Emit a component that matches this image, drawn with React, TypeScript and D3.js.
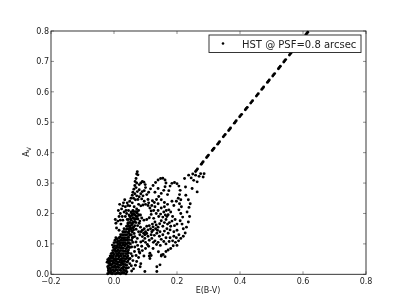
import React from "react";
import * as d3 from "d3";

type P = [number, number];

const xTicks = [-0.2, 0, 0.2, 0.4, 0.6, 0.8];
const yTicks = [0, 0.1, 0.2, 0.3, 0.4, 0.5, 0.6, 0.7, 0.8];
const legendLabel = "HST @ PSF=0.8 arcsec";

const coreLow: P[] = [
  [-0.02,0.002],[-0.018,0.012],[-0.02,0.025],[-0.022,0.04],[-0.02,0.048],[-0.016,0.036],[-0.014,0.02],[-0.012,0.006],[-0.015,0.048],[-0.012,0.06],
  [-0.01,0.03],[-0.008,0.012],[-0.006,0.002],[-0.008,0.044],[-0.006,0.056],[-0.005,0.07],[-0.004,0.025],[-0.002,0.038],[0,0.01],[0,0.05],
  [0,0.065],[0,0.08],[0.002,0.094],[0.002,0.028],[0.004,0.002],[0.004,0.044],[0.005,0.058],[0.005,0.075],[0.006,0.105],[0.006,0.016],
  [0.008,0.034],[0.008,0.088],[0.01,0.05],[0.01,0.066],[0.01,0.116],[0.012,0.006],[0.012,0.024],[0.012,0.08],[0.014,0.098],[0.014,0.04],
  [0.016,0.056],[0.016,0.072],[0.016,0.11],[0.018,0.014],[0.018,0.03],[0.018,0.088],[0.02,0.002],[0.02,0.046],[0.02,0.062],[0.02,0.102],
  [0.02,0.122],[0.022,0.078],[0.024,0.02],[0.024,0.036],[0.024,0.094],[0.024,0.112],[0.026,0.052],[0.026,0.068],[0.026,0.13],[0.028,0.006],
  [0.028,0.086],[0.03,0.026],[0.03,0.042],[0.03,0.104],[0.03,0.12],[0.032,0.06],[0.032,0.076],[0.032,0.14],[0.034,0.012],[0.034,0.094],
  [0.035,0.032],[0.036,0.05],[0.036,0.112],[0.036,0.13],[0.038,0.002],[0.038,0.068],[0.038,0.084],[0.04,0.02],[0.04,0.1],[0.04,0.148],
  [0.042,0.04],[0.042,0.12],[0.044,0.06],[0.044,0.138],[0.046,0.08],[0.046,0.158],[0.048,0.104],[0.05,0.128],[0.05,0.148],[0.052,0.17]
];

const coreFill: P[] = [
  [-0.016,0.006],[-0.01,0.004],[-0.002,0.004],[0.008,0.003],[0.015,0.004],[0.024,0.004],[0.032,0.004],[-0.018,0.018],[-0.011,0.014],[-0.003,0.014],
  [0.004,0.012],[0.011,0.014],[0.022,0.012],[0.03,0.014],[0.038,0.012],[-0.017,0.028],[-0.007,0.022],[0,0.022],[0.007,0.024],[0.015,0.022],
  [0.028,0.02],[0.036,0.022],[-0.012,0.034],[-0.005,0.034],[0.003,0.036],[0.012,0.032],[0.021,0.03],[0.028,0.034],[0.04,0.03],[-0.018,0.042],
  [-0.012,0.042],[-0.004,0.044],[0.008,0.042],[0.018,0.04],[0.026,0.042],[0.034,0.042],[-0.016,0.052],[-0.01,0.052],[-0.002,0.052],[0.006,0.05],
  [0.014,0.05],[0.023,0.05],[0.031,0.052],[0.04,0.052],[-0.009,0.06],[-0.003,0.06],[0.008,0.06],[0.013,0.062],[0.024,0.06],[0.036,0.06],
  [0.042,0.056],[-0.009,0.068],[-0.002,0.07],[0.008,0.068],[0.014,0.068],[0.022,0.068],[0.03,0.068],[0.042,0.068],[-0.004,0.078],[0.003,0.08],
  [0.009,0.076],[0.019,0.078],[0.027,0.078],[0.036,0.076],[0.043,0.076],[-0.002,0.088],[0.005,0.086],[0.013,0.088],[0.022,0.086],[0.03,0.086],
  [0.042,0.088],[-0.005,0.096],[0.009,0.094],[0.018,0.096],[0.028,0.096],[0.036,0.096],[0.045,0.094],[0,0.104],[0.011,0.104],[0.018,0.104],
  [0.026,0.104],[0.035,0.104],[0.044,0.104],[0.003,0.112],[0.012,0.11],[0.021,0.112],[0.03,0.112],[0.042,0.112],[0.048,0.114],[0.006,0.12],
  [0.016,0.12],[0.025,0.12],[0.035,0.12],[0.046,0.122],[0.021,0.13],[0.031,0.13],[0.041,0.13],[0.048,0.134],[0.055,0.13],[0.028,0.14],
  [0.037,0.14],[0.048,0.142],[0.056,0.142],[0.062,0.146],[0.032,0.15],[0.044,0.15],[0.052,0.154],[0.06,0.152],[0.04,0.158],[0.056,0.162],
  [0.044,0.166],[0.05,0.17],[0.06,0.17],[0.066,0.172],[0.046,0.18],[0.053,0.182],[0.063,0.184],[0.07,0.182],[0.05,0.19],[0.058,0.194],
  [0.066,0.196],[0.074,0.19],[0.054,0.205],[0.062,0.206],[0.072,0.206],[0.052,0.1],[0.056,0.112],[0.06,0.122],[0.064,0.134],[0.07,0.148],
  [0.075,0.16],[0.08,0.168],[0.044,0.044],[0.041,0.008],[0.046,0.07],[0.05,0.088]
];

const band: P[] = [
  [0.05,0.16],[0.052,0.19],[0.054,0.15],[0.055,0.178],[0.056,0.2],[0.058,0.165],[0.058,0.14],[0.06,0.186],[0.06,0.21],[0.062,0.172],
  [0.062,0.155],[0.064,0.198],[0.064,0.222],[0.066,0.18],[0.066,0.16],[0.068,0.206],[0.07,0.19],[0.07,0.17],[0.072,0.215],[0.074,0.2],
  [0.076,0.182],[0.078,0.21],[0.08,0.195],[0.082,0.175],[0.045,0.17],[0.042,0.18],[0.048,0.195],[0.046,0.21],[0.05,0.225],[0.04,0.2],
  [0.036,0.19],[0.032,0.205],[0.036,0.222],[0.03,0.235],[0.024,0.215],[0.02,0.2],[0.016,0.19],[0.012,0.175],[0.018,0.23],[0.028,0.178],
  [0.014,0.21],[0.022,0.165],[0.006,0.168],[0.042,0.235],[0.034,0.245],[0.05,0.24],[0.008,0.152],[0.016,0.145],[0.004,0.18],[0.026,0.19],
  [0.028,0.225],[0.038,0.21],[0.044,0.226],[0.02,0.178]
];

const spike: P[] = [
  [0.074,0.337],[0.072,0.33],[0.076,0.327],[0.07,0.315],[0.067,0.305],[0.072,0.3],[0.066,0.292],[0.07,0.285],[0.063,0.28],[0.06,0.27],
  [0.066,0.265],[0.058,0.26],[0.054,0.25],[0.062,0.25],[0.068,0.245],[0.058,0.235],[0.08,0.295],[0.085,0.3],[0.09,0.305],[0.095,0.303],
  [0.099,0.295],[0.1,0.285],[0.096,0.275],[0.09,0.272],[0.085,0.265],[0.08,0.255],[0.076,0.246],[0.078,0.23],[0.074,0.272],[0.08,0.278],
  [0.072,0.258]
];

const innerLoops: P[] = [
  [0.085,0.225],[0.092,0.228],[0.1,0.23],[0.108,0.226],[0.114,0.218],[0.118,0.208],[0.118,0.197],[0.112,0.186],[0.104,0.18],[0.095,0.178],
  [0.088,0.185],[0.084,0.195],[0.126,0.184],[0.13,0.172],[0.122,0.165],[0.112,0.16],[0.104,0.158],[0.096,0.15],[0.09,0.145],[0.084,0.155],
  [0.1,0.14],[0.108,0.146],[0.116,0.15],[0.124,0.145],[0.132,0.15],[0.14,0.155],[0.136,0.135],[0.144,0.125],[0.15,0.115],[0.158,0.108],
  [0.165,0.1],[0.128,0.128],[0.118,0.13],[0.108,0.125],[0.098,0.118],[0.09,0.124],[0.082,0.13],[0.074,0.118],[0.07,0.106],[0.075,0.095],
  [0.085,0.106],[0.1,0.105],[0.112,0.112],[0.134,0.2],[0.14,0.21],[0.148,0.198],[0.155,0.188],[0.15,0.176],[0.145,0.166],[0.16,0.17],
  [0.165,0.18],[0.158,0.205],[0.15,0.218],[0.16,0.222],[0.166,0.21],[0.172,0.196],[0.17,0.23],[0.163,0.195],[0.176,0.17],[0.18,0.158],
  [0.168,0.15],[0.16,0.142],[0.172,0.135],[0.178,0.12],[0.186,0.11],[0.195,0.105],[0.2,0.095],[0.188,0.094],[0.18,0.085],[0.172,0.08],
  [0.165,0.075],[0.156,0.065],[0.15,0.06],[0.19,0.14],[0.2,0.145],[0.206,0.13],[0.2,0.165],[0.194,0.18],[0.186,0.19],[0.18,0.205],
  [0.094,0.135],[0.104,0.134],[0.086,0.14],[0.12,0.14],[0.155,0.158],[0.17,0.165],[0.155,0.13],[0.165,0.12],[0.19,0.125],[0.175,0.108],
  [0.066,0.124],[0.078,0.14],[0.092,0.11],[0.106,0.098],[0.12,0.118],[0.13,0.11],[0.14,0.105],[0.078,0.082],[0.088,0.092],[0.098,0.13],
  [0.138,0.145],[0.146,0.14],[0.124,0.156],[0.134,0.162],[0.178,0.146],[0.184,0.175],[0.192,0.16],[0.168,0.19],[0.174,0.212],[0.142,0.19],
  [0.126,0.21],[0.13,0.222],[0.14,0.232],[0.122,0.242],[0.108,0.246],[0.096,0.24],[0.088,0.248],[0.092,0.258],[0.11,0.235],[0.198,0.12]
];

const outerLoops: P[] = [
  [0.104,0.262],[0.11,0.27],[0.116,0.281],[0.124,0.292],[0.132,0.302],[0.14,0.31],[0.148,0.315],[0.155,0.316],[0.162,0.31],[0.165,0.3],
  [0.162,0.288],[0.158,0.276],[0.15,0.266],[0.142,0.256],[0.135,0.246],[0.128,0.236],[0.12,0.226],[0.13,0.27],[0.14,0.282],[0.15,0.245],
  [0.16,0.236],[0.17,0.262],[0.174,0.275],[0.178,0.29],[0.184,0.299],[0.192,0.302],[0.2,0.298],[0.206,0.29],[0.21,0.276],[0.208,0.262],
  [0.204,0.25],[0.198,0.24],[0.19,0.226],[0.184,0.24],[0.212,0.245],[0.208,0.232],[0.214,0.222],[0.206,0.212],[0.212,0.2],[0.218,0.188],
  [0.21,0.176],[0.216,0.165],[0.22,0.15],[0.226,0.136],[0.22,0.125],[0.212,0.118],[0.205,0.11],[0.23,0.155],[0.236,0.172],[0.24,0.19],
  [0.232,0.205],[0.238,0.22],[0.242,0.232],[0.236,0.245],[0.228,0.26]
];

const lowerScatter: P[] = [
  [0.056,0.011],[0.055,0.028],[0.06,0.045],[0.058,0.06],[0.065,0.075],[0.056,0.09],[0.06,0.105],[0.051,0.052],[0.048,0.05],[0.068,0.03],
  [0.072,0.042],[0.078,0.055],[0.083,0.025],[0.08,0.074],[0.085,0.035],[0.098,0.009],[0.082,0.07],[0.09,0.078],[0.1,0.085],[0.11,0.092],
  [0.114,0.069],[0.112,0.06],[0.114,0.052],[0.118,0.062],[0.146,0.031],[0.136,0.025],[0.136,0.009],[0.151,0.064],[0.066,0.09],[0.095,0.06],
  [0.141,0.074],[0.07,0.062],[0.124,0.085],[0.135,0.098],[0.147,0.095],[0.125,0.105],[0.05,0.035],[0.062,0.018],[0.054,0.068],[0.046,0.022],
  [0.048,0.09],[0.058,0.12],[0.162,0.058]
];

const tail: P[] = [
  [0.224,0.315],[0.237,0.326],[0.245,0.317],[0.253,0.309],[0.264,0.271],[0.248,0.282],[0.227,0.287],[0.259,0.326],[0.275,0.331],[0.286,0.331],
  [0.264,0.304],[0.27,0.322],[0.283,0.32],[0.25,0.33]
];

const dashLine: P[] = [
  [0.259,0.338],[0.262,0.342],[0.265,0.346],[0.277,0.362],[0.28,0.366],[0.283,0.37],[0.294,0.384],[0.297,0.388],[0.3,0.392],[0.312,0.407],
  [0.315,0.411],[0.318,0.415],[0.329,0.428],[0.332,0.432],[0.335,0.436],[0.347,0.452],[0.35,0.456],[0.353,0.46],[0.364,0.473],[0.367,0.477],
  [0.37,0.481],[0.382,0.497],[0.385,0.501],[0.388,0.505],[0.399,0.518],[0.402,0.522],[0.405,0.526],[0.417,0.541],[0.42,0.545],[0.423,0.549],
  [0.434,0.563],[0.437,0.567],[0.44,0.571],[0.452,0.586],[0.455,0.59],[0.458,0.594],[0.469,0.608],[0.472,0.612],[0.475,0.616],[0.487,0.631],
  [0.49,0.635],[0.493,0.639],[0.504,0.652],[0.507,0.656],[0.51,0.66],[0.522,0.676],[0.525,0.68],[0.528,0.684],[0.539,0.698],[0.542,0.702],
  [0.545,0.706],[0.557,0.721],[0.56,0.725],[0.563,0.729],[0.574,0.743],[0.577,0.747],[0.58,0.751],[0.592,0.766],[0.595,0.77],[0.598,0.774],
  [0.609,0.788],[0.612,0.792],[0.615,0.796]
];

const points: P[] = [...coreLow, ...coreFill, ...band, ...spike, ...innerLoops, ...outerLoops, ...lowerScatter, ...tail, ...dashLine];

const font = "'DejaVu Sans', sans-serif";
const ink = "#222";

export default function App() {
  const x = d3.scaleLinear().domain([-0.2, 0.8]).range([51, 366]);
  const y = d3.scaleLinear().domain([0, 0.8]).range([274.3, 31]);
  const [x0, x1] = x.range();
  const [yb, yt] = y.range();
  const fmt = d3.format(".1f");
  const lab = (v: number) => fmt(v).replace("-", "\u2212");
  return (
    <svg width={407} height={305} style={{ position: "absolute", left: 0, top: 0, background: "#fff" }}>
      <defs>
        <filter id="soft" x="0" y="0" width="100%" height="100%">
          <feGaussianBlur stdDeviation={0.35} />
        </filter>
      </defs>
      <g filter="url(#soft)">
        <rect x={0} y={0} width={407} height={305} fill="#fff" />
        <rect x={x0} y={yt} width={x1 - x0} height={yb - yt} fill="#fff" stroke={ink} strokeWidth={0.9} />
        {points.map((p, i) => (
          <circle key={i} cx={x(p[0])} cy={y(p[1])} r={1.45} fill="#000" />
        ))}
        {xTicks.map((t) => (
          <g key={t}>
            <path d={`M${x(t)},${yb}v-3M${x(t)},${yt}v3`} stroke={ink} strokeWidth={0.5} fill="none" />
            <text x={x(t)} y={yb + 10} fontSize={8} fontFamily={font} fill={ink} textAnchor="middle">{lab(t)}</text>
          </g>
        ))}
        {yTicks.map((t) => (
          <g key={t}>
            <path d={`M${x0},${y(t)}h3M${x1},${y(t)}h-3`} stroke={ink} strokeWidth={0.5} fill="none" />
            <text x={x0 - 2} y={y(t) + 3} fontSize={8} fontFamily={font} fill={ink} textAnchor="end">{lab(t)}</text>
          </g>
        ))}
        <text x={208} y={293} fontSize={8} fontFamily={font} fill={ink} textAnchor="middle">E(B-V)</text>
        <text transform="translate(29,152) rotate(-90)" fontSize={8} fontFamily={font} fill={ink} textAnchor="middle">
          A<tspan fontSize={6} dy={1.5}>V</tspan>
        </text>
        <rect x={209} y={35} width={152} height={17.5} fill="#fff" stroke={ink} strokeWidth={0.9} />
        <circle cx={223} cy={43.5} r={1.3} fill="#000" />
        <text x={242} y={47.5} fontSize={10} fontFamily={font} fill={ink}>{legendLabel}</text>
      </g>
    </svg>
  );
}
